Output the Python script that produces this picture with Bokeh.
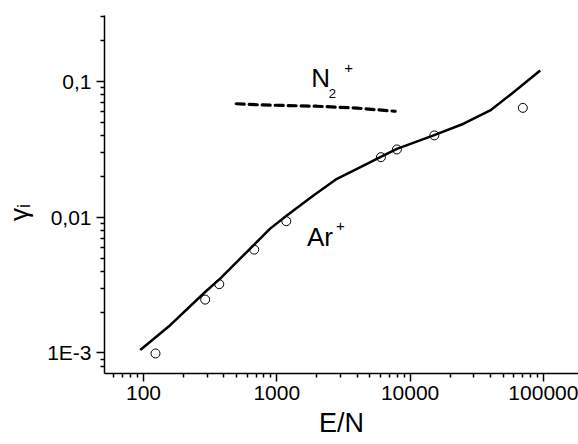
import numpy as np
from bokeh.plotting import figure
from bokeh.models import Range1d, FixedTicker, Label
from bokeh.embed import file_html
from bokeh.resources import INLINE

# Ar+ measured points
ar_x = [123, 290, 370, 677, 1178, 6040, 7960, 15200, 70100]
ar_y = [0.00099, 0.00247, 0.00321, 0.00577, 0.00935, 0.0277, 0.0316, 0.0401, 0.064]

# Ar+ model curve
fit_x = [94.5, 158.6, 290, 376, 668, 891, 1189, 1884, 2825, 4467, 5970, 7960,
         15000, 25200, 39900, 59700, 94600]
fit_y = [0.00105, 0.0016, 0.00281, 0.00353, 0.00621, 0.00824, 0.0103, 0.01445,
         0.0192, 0.024, 0.0277, 0.0319, 0.0401, 0.0489, 0.0612, 0.0834, 0.1205]

# N2+ model curve
n2_x = [496, 760, 2000, 3990, 7730]
n2_y = [0.0686, 0.0673, 0.0658, 0.0637, 0.0604]

x_ticks = [100, 1000, 10000, 100000]
x_tick_labels = ["100", "1000", "10000", "100000"]
y_ticks = [0.001, 0.01, 0.1]
y_tick_labels = ["1E-3", "0,01", "0,1"]

FONT = "Liberation Sans"

p = figure(width=578, height=444, x_axis_type="log", y_axis_type="log",
           x_range=Range1d(10**1.7074, 10**5.2633),
           y_range=Range1d(10**-3.152, 10**-0.513),
           output_backend="svg", toolbar_location=None,
           min_border_left=104, min_border_right=0,
           min_border_top=15, min_border_bottom=71)
p.outline_line_color = None
p.xgrid.visible = False
p.ygrid.visible = False
p.background_fill_color = "white"
p.border_fill_color = "white"

def minors(lo, hi):
    out = []
    for e in range(lo, hi):
        for m in range(2, 10):
            out.append(m * 10.0**e)
    return out

p.xaxis.ticker = FixedTicker(ticks=x_ticks, minor_ticks=minors(1, 6))
p.yaxis.ticker = FixedTicker(ticks=y_ticks, minor_ticks=minors(-4, 0))
p.xaxis.major_label_overrides = dict(zip(x_ticks, x_tick_labels))
p.yaxis.major_label_overrides = dict(zip(y_ticks, y_tick_labels))

for ax in (p.xaxis, p.yaxis):
    ax.axis_line_color = "black"
    ax.axis_line_width = 1.5
    ax.major_tick_line_color = "black"
    ax.minor_tick_line_color = "black"
    ax.major_tick_line_width = 1.5
    ax.minor_tick_line_width = 1.5
    ax.major_tick_in = 0
    ax.minor_tick_in = 0
    ax.major_tick_out = 8
    ax.minor_tick_out = 4
    ax.major_label_text_font = FONT
    ax.major_label_text_font_size = "21px"
    ax.major_label_text_color = "black"
    ax.axis_label_text_font = FONT
    ax.axis_label_text_font_style = "normal"
    ax.axis_label_text_color = "black"

p.xaxis.major_label_standoff = 4
p.yaxis.major_label_standoff = 5
p.xaxis.axis_label = "E/N"
p.xaxis.axis_label_text_font_size = "27px"
p.xaxis.axis_label_standoff = 5
p.yaxis.axis_label = "γᵢ" + "\u00a0" * 5
p.yaxis.axis_label_text_font_size = "26px"
p.yaxis.axis_label_standoff = 10

p.line(fit_x, fit_y, line_color="black", line_width=2.5, line_join="round")
p.line(n2_x, n2_y, line_color="black", line_width=3.2, line_dash="8 5", line_cap="round")
p.scatter(ar_x, ar_y, marker="circle", size=9, line_color="black", line_width=1,
          fill_color=None)

def lab(x, y, t, size, **kw):
    p.add_layout(Label(x=x, y=y, text=t, text_font=FONT, text_font_size=size,
                       text_color="black", **kw))

lab(1811, 0.107, "N", "26px", text_baseline="alphabetic", text_align="left")
lab(2449, 0.0816, "2", "13px", text_baseline="alphabetic", text_align="left")
lab(3200, 0.1265, "+", "15px", text_baseline="alphabetic", text_align="left")
lab(1683, 0.0072, "Ar", "26px", text_baseline="alphabetic", text_align="left")
lab(2775, 0.00857, "+", "15px", text_baseline="alphabetic", text_align="left")

open("out.html", "w").write(file_html(p, INLINE))
